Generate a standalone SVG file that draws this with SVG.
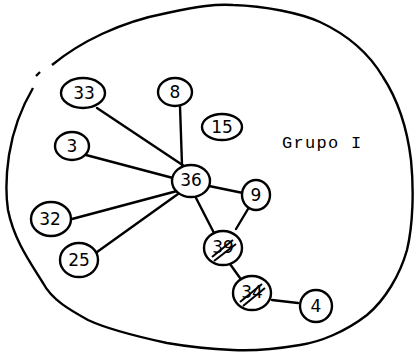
<svg xmlns="http://www.w3.org/2000/svg" width="414" height="355" viewBox="0 0 414 355">
<style>
.n ellipse{fill:#fff;stroke:#000;stroke-width:2.4}
.n text{font-family:"DejaVu Sans","Liberation Sans",sans-serif;font-size:17px;fill:#000;text-anchor:middle;dominant-baseline:central}
.e line{stroke:#000;stroke-width:2.4;stroke-linecap:round}
.blob{fill:none;stroke:#000;stroke-width:2.4;stroke-linejoin:round}
.hatch{stroke:#000;stroke-width:2}
.lbl{font-family:"Liberation Mono","DejaVu Sans Mono",monospace;font-size:17px;letter-spacing:1.3px;fill:#000}
</style>
<rect width="414" height="355" fill="#fff"/>
<path class="blob" d="M40,72 L36,76 M52,65 C80,42 120,22 167,13 C200,6 215,4 233,5 C265,6 300,13 320,22 C350,36 370,55 383,77 C398,100 407,127 411,160 C414,190 413,225 407,250 C400,275 385,300 367,315 C345,332 320,342 300,345 C270,350 250,351 233,350 C210,349 190,347 167,343 C130,335 105,328 88,320 C70,310 52,300 43,283 C30,262 14,240 8,210 C5,190 6,175 9,155 C13,130 20,110 33,88"/>
<g class="e">
<line x1="97" y1="108" x2="184" y2="166"/>
<line x1="180" y1="106" x2="182" y2="165"/>
<line x1="86" y1="155" x2="173" y2="178"/>
<line x1="177" y1="191" x2="72" y2="219"/>
<line x1="178" y1="194" x2="97" y2="252"/>
<line x1="209" y1="186" x2="243" y2="193"/>
<line x1="195" y1="196" x2="214" y2="233"/>
<line x1="248" y1="209" x2="236" y2="229"/>
<line x1="230" y1="264" x2="240" y2="278"/>
<line x1="272" y1="300" x2="298" y2="303"/>
</g>
<g id="n33" class="n"><ellipse cx="83" cy="93" rx="22" ry="15"/><text x="84" y="93">33</text></g>
<g id="n8" class="n"><ellipse cx="175" cy="92" rx="17" ry="14"/><text x="175" y="92">8</text></g>
<g id="n15" class="n"><ellipse cx="222" cy="127" rx="20" ry="13"/><text x="222" y="127">15</text></g>
<g id="n3" class="n"><ellipse cx="72" cy="146" rx="17" ry="14"/><text x="72" y="146">3</text></g>
<g id="n36" class="n"><ellipse cx="191" cy="181" rx="19" ry="16"/><text x="191" y="180">36</text></g>
<g id="n9" class="n"><ellipse cx="256" cy="195" rx="14" ry="15"/><text x="256" y="195">9</text></g>
<g id="n32" class="n"><ellipse cx="51" cy="219" rx="20" ry="17"/><text x="50" y="219">32</text></g>
<g id="n25" class="n"><ellipse cx="79" cy="260" rx="19" ry="17"/><text x="79" y="260">25</text></g>
<g id="n39" class="n"><ellipse cx="223" cy="248" rx="19" ry="17"/><text x="223" y="247">39</text><line class="hatch" x1="212" y1="257" x2="233" y2="240"/><line class="hatch" x1="214" y1="261" x2="236" y2="244"/></g>
<g id="n34" class="n"><ellipse cx="252" cy="293" rx="19" ry="17"/><text x="252" y="292">34</text><line class="hatch" x1="240" y1="302" x2="262" y2="284"/><line class="hatch" x1="243" y1="306" x2="265" y2="288"/></g>
<g id="n4" class="n"><ellipse cx="316" cy="306" rx="16" ry="16"/><text x="316" y="306">4</text></g>
<text class="lbl" x="282" y="148">Grupo I</text>
</svg>
